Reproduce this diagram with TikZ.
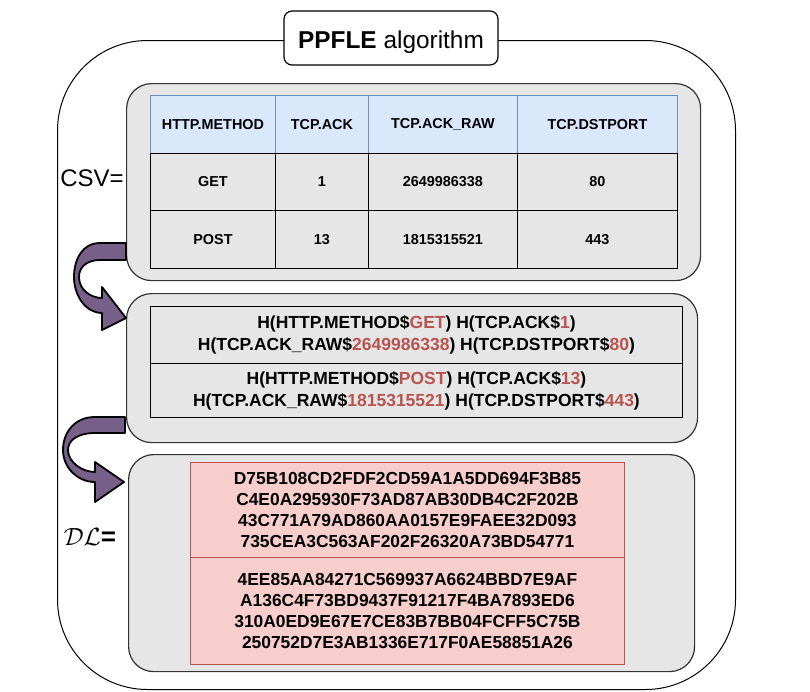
\documentclass[tikz,border=0pt]{standalone}
\usepackage{fontspec}
\setmainfont{Liberation Sans}
\definecolor{panelgray}{HTML}{E6E6E6}
\definecolor{headfill}{HTML}{DAE8FC}
\definecolor{headblue}{HTML}{6C8EBF}
\definecolor{dlfill}{HTML}{F8CECC}
\definecolor{dlred}{HTML}{B85450}
\definecolor{arrowpurple}{HTML}{76608A}
\begin{document}
\begin{tikzpicture}[x=1pt,y=-1pt,
  panel/.style={draw=black!80, fill=panelgray, line width=1.2pt, rounded corners=25pt, anchor=north west, inner sep=0pt},
  cell/.style={draw=black, fill=panelgray, line width=0.9pt, anchor=north west, inner sep=0pt, font=\bfseries\fontsize{14.4}{17}\selectfont},
  hcell/.style={cell, draw=headblue, fill=headfill},
  hashcell/.style={cell, font=\bfseries\fontsize{17.5}{22}\selectfont, align=center},
  dlcell/.style={cell, draw=dlred, fill=dlfill, font=\bfseries\fontsize{17.4}{21}\selectfont, align=center},
  jump/.style={draw=black, line width=1.8pt, fill=arrowpurple, line join=round}]
\useasboundingbox (0,0) rectangle (810,691);

% outer frame and title
\node[draw, line width=1pt, rounded corners=90pt, minimum width=678pt, minimum height=649pt, anchor=north west, inner sep=0pt] (outer) at (57,40) {};
\node[draw, fill=white, line width=1.2pt, rounded corners=8pt, minimum width=214pt, minimum height=54pt, inner sep=0pt] (title) at (391,38) {};
\node[anchor=base, font=\fontsize{24.4}{28}\selectfont, inner sep=0pt] (titletext) at (391,48) {\textbf{PPFLE} algorithm};

% panels
\node[panel, minimum width=574pt, minimum height=197pt] (p1) at (126,83) {};
\node[panel, minimum width=571pt, minimum height=149pt] (p2) at (126,293) {};
\node[panel, minimum width=566pt, minimum height=217pt] (p3) at (128,454) {};

% table 1
\node[hcell, minimum width=125pt, minimum height=58pt] (h1) at (150,95) {HTTP.METHOD};
\node[hcell, minimum width=93pt, minimum height=58pt] (h2) at (275,95) {TCP.ACK};
\node[hcell, minimum width=149pt, minimum height=58pt] (h3) at (368,95) {TCP.ACK\_RAW};
\node[hcell, minimum width=160pt, minimum height=58pt] (h4) at (517,95) {TCP.DSTPORT};
\node[cell, minimum width=125pt, minimum height=57pt] (a1) at (150,153) {GET};
\node[cell, minimum width=93pt, minimum height=57pt] (a2) at (275,153) {1};
\node[cell, minimum width=149pt, minimum height=57pt] (a3) at (368,153) {2649986338};
\node[cell, minimum width=160pt, minimum height=57pt] (a4) at (517,153) {80};
\node[cell, minimum width=125pt, minimum height=58pt] (b1) at (150,210) {POST};
\node[cell, minimum width=93pt, minimum height=58pt] (b2) at (275,210) {13};
\node[cell, minimum width=149pt, minimum height=58pt] (b3) at (368,210) {1815315521};
\node[cell, minimum width=160pt, minimum height=58pt] (b4) at (517,210) {443};

% table 2
\node[hashcell, minimum width=532pt, minimum height=57pt] (r1) at (150,306)
 {H(HTTP.METHOD\$\textcolor{dlred}{GET}) H(TCP.ACK\$\textcolor{dlred}{1})\\
  H(TCP.ACK\_RAW\$\textcolor{dlred}{2649986338}) H(TCP.DSTPORT\$\textcolor{dlred}{80})};
\node[hashcell, minimum width=532pt, minimum height=54pt] (r2) at (150,363)
 {H(HTTP.METHOD\$\textcolor{dlred}{POST}) H(TCP.ACK\$\textcolor{dlred}{13})\\
  H(TCP.ACK\_RAW\$\textcolor{dlred}{1815315521}) H(TCP.DSTPORT\$\textcolor{dlred}{443})};

% table 3
\node[dlcell, minimum width=434pt, minimum height=95pt] (d1) at (190,462)
 {D75B108CD2FDF2CD59A1A5DD694F3B85\\C4E0A295930F73AD87AB30DB4C2F202B\\43C771A79AD860AA0157E9FAEE32D093\\735CEA3C563AF202F26320A73BD54771};
\node[dlcell, minimum width=434pt, minimum height=107pt] (d2) at (190,557)
 {4EE85AA84271C569937A6624BBD7E9AF\\A136C4F73BD9437F91217F4BA7893ED6\\310A0ED9E67E7CE83B7BB04FCFF5C75B\\250752D7E3AB1336E717F0AE58851A26};

% labels
\node[anchor=base, font=\fontsize{24}{28}\selectfont, inner sep=0pt] (csv) at (92,186) {CSV=};
\node[anchor=base, font=\fontsize{26}{28}\selectfont, inner sep=0pt] (dl) at (90,545) {$\mathcal{DL}$\textbf{=}};

% curved arrows
\draw[jump] (126,243) -- (100,243) .. controls (82,243) and (74,260) .. (74,277)
  .. controls (74,296) and (86,313) .. (102,313) -- (102,330) -- (126,318) -- (102,287) -- (102,298)
  .. controls (91,298) and (79,290) .. (79,277) .. controls (79,266) and (88,260) .. (100,260) -- (126,260) -- cycle;
\draw[jump] (125,417) -- (95,417) .. controls (75,417) and (63,432) .. (63,450)
  .. controls (63,468) and (78,482) .. (95,482) -- (95,502) -- (124,482) -- (95,462) -- (95,472)
  .. controls (82,472) and (68,462) .. (68,450) .. controls (68,440) and (78,433) .. (95,433) -- (125,433) -- cycle;
\end{tikzpicture}
\end{document}
